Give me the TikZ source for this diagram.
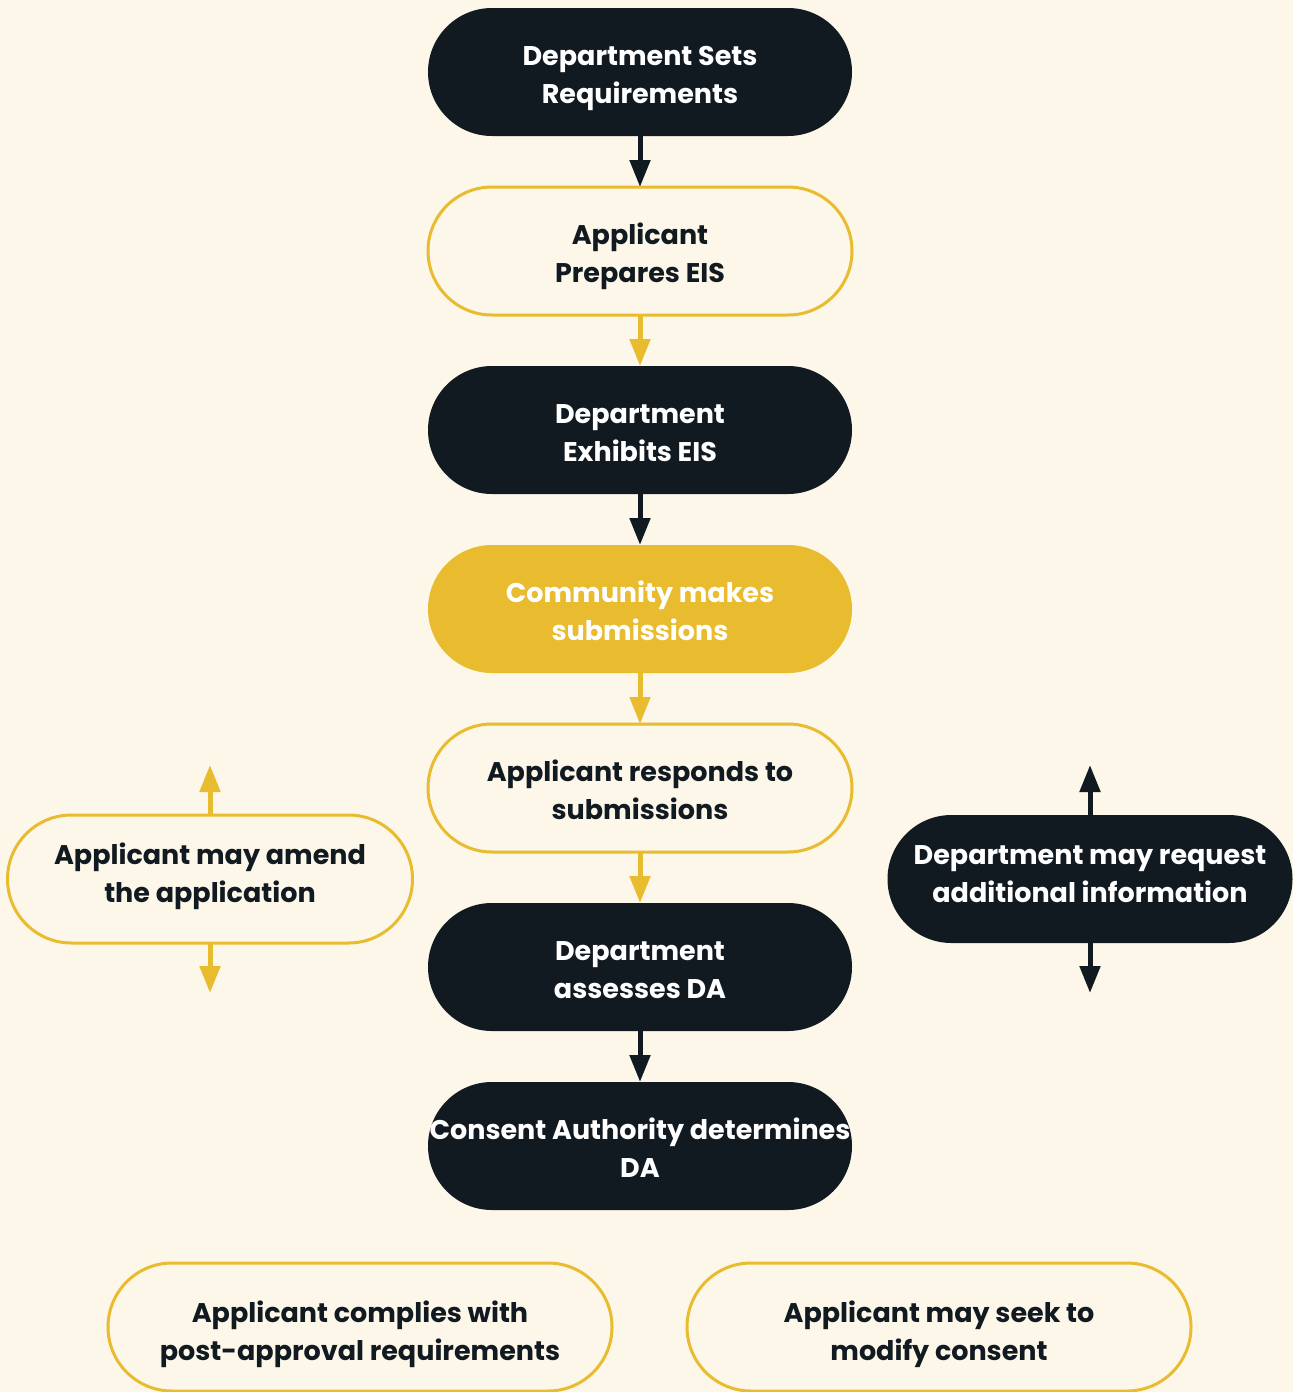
\documentclass[tikz,border=0pt]{standalone}
\usepackage{fontspec}
\setmainfont{Poppins}
\usetikzlibrary{arrows.meta,positioning}
\definecolor{ink}{HTML}{121A21}
\definecolor{gold}{HTML}{E9BB2F}
\definecolor{paper}{HTML}{FDF7EA}
\tikzset{
    %Define standard arrow tip
    >={Triangle[length=27pt,width=20pt]},
    %Define styles for the pill boxes
    pill/.style={
           rectangle,
           rounded corners=64pt,
           minimum width=424pt,
           minimum height=128pt,
           inner sep=0pt,
           outer sep=0pt,
           align=center,
           text height=63pt,
           text depth=0pt,
           font=\fontsize{27}{38}\selectfont\bfseries},
    darkpill/.style={pill, fill=ink, text=white},
    goldpill/.style={pill, fill=gold, text=white},
    openpill/.style={pill, draw=gold, line width=3pt, fill=paper, text=ink},
    sidepill/.style={minimum width=405pt, text height=47pt},
    widepill/.style={minimum width=504pt, text height=67pt},
    % Define arrow styles
    darkpil/.style={->, draw=ink, line width=5pt},
    goldpil/.style={->, draw=gold, line width=5pt}
}
\begin{document}
\begin{tikzpicture}[x=1pt,y=1pt,node distance=51pt]
\fill[paper] (0,0) rectangle (1293,-1392);
\useasboundingbox (0,0) rectangle (1293,-1392);
 %main column
\node[darkpill] (1) at (640,-72) {Department Sets\\Requirements};
\node[openpill, below=of 1] (2) {Applicant\\Prepares EIS};
\node[darkpill, below=of 2] (3) {Department\\Exhibits EIS};
\node[goldpill, below=of 3] (4) {Community makes\\submissions};
\node[openpill, below=of 4] (5) {Applicant responds to\\submissions};
\node[darkpill, below=of 5] (6) {Department\\assesses DA};
\node[darkpill, below=of 6] (7) {Consent Authority determines\\DA};
 %side boxes
\node[openpill, sidepill] (amend) at (210,-879) {Applicant may amend\\the application};
\node[darkpill, sidepill] (request) at (1090,-879) {Department may request\\additional information};
\coordinate[above=50pt of amend.north] (amendup);
\coordinate[below=50pt of amend.south] (amenddown);
\coordinate[above=50pt of request.north] (requestup);
\coordinate[below=50pt of request.south] (requestdown);
 %bottom boxes
\node[openpill, widepill] (comply) at (360,-1327) {Applicant complies with\\post-approval requirements};
\node[openpill, widepill] (modify) at (939,-1327) {Applicant may seek to\\modify consent};
 %arrows
\draw[darkpil] (1) -- (2);
\draw[goldpil] (2) -- (3);
\draw[darkpil] (3) -- (4);
\draw[goldpil] (4) -- (5);
\draw[goldpil] (5) -- (6);
\draw[darkpil] (6) -- (7);
\draw[goldpil] (amend) -- (amendup);
\draw[goldpil] (amend) -- (amenddown);
\draw[darkpil] (request) -- (requestup);
\draw[darkpil] (request) -- (requestdown);
\end{tikzpicture}
\end{document}
